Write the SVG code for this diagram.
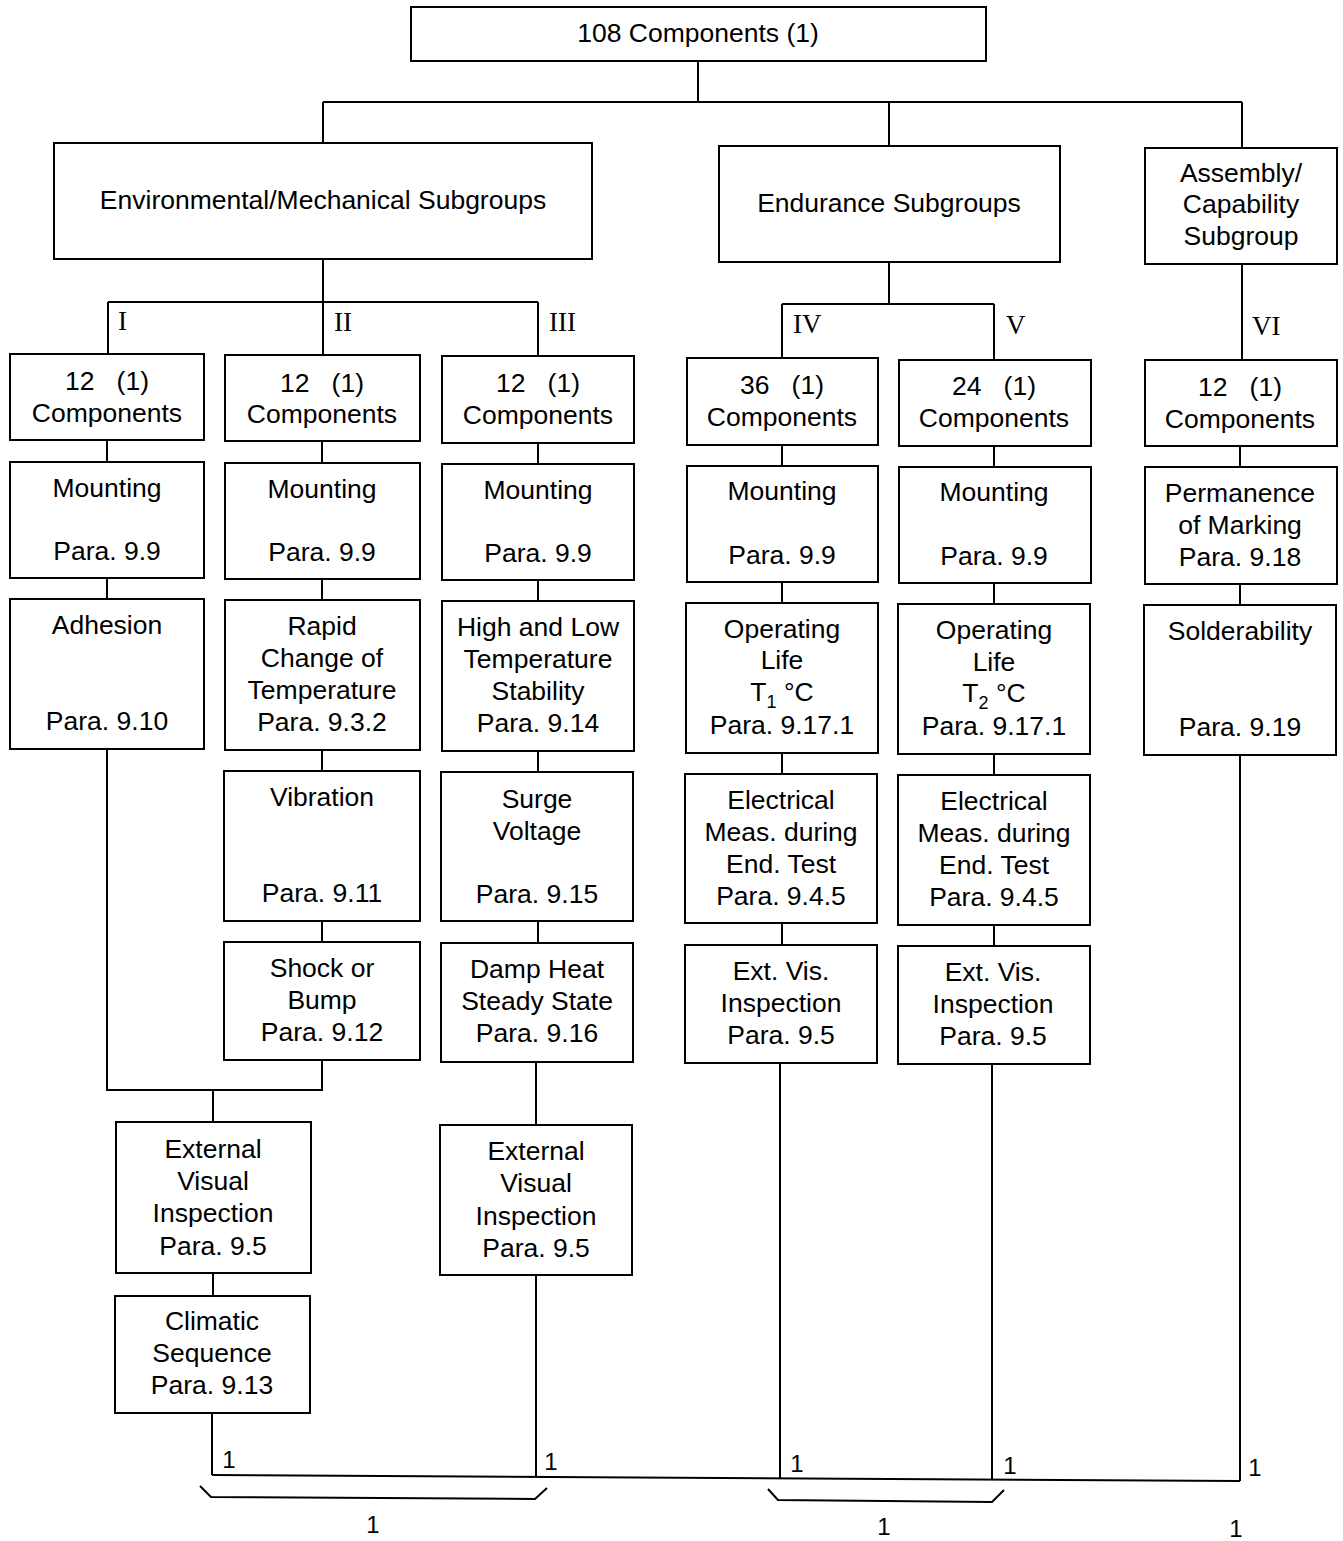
<svg xmlns="http://www.w3.org/2000/svg" width="1343" height="1541" viewBox="0 0 1343 1541">
<style>
.b{fill:none;stroke:#000;stroke-width:2}
.c{fill:none;stroke:#000;stroke-width:2}
.t{font-family:"Liberation Sans",Arial,Helvetica,sans-serif;font-size:26.5px;text-anchor:middle;fill:#000;white-space:pre}
.r{font-family:"Liberation Serif","Times New Roman",serif;font-size:27px;fill:#000}
.n{font-family:"Liberation Sans",Arial,Helvetica,sans-serif;font-size:24px;text-anchor:middle;fill:#000}
.s{font-size:18px}
</style>
<rect width="1343" height="1541" fill="#fff"/>
<g id="connectors">
<path class="c" d="M698 61V102M323 102H1242M323 102V143M889 102V146M1242 102V148"/>
<path class="c" d="M323 259V302M108 302H538M108 302V354M323 302V355M538 302V356"/>
<path class="c" d="M889 262V304M782 304H994M782 304V358M994 304V360"/>
<path class="c" d="M1242 264V360"/>
<path class="c" d="M107 440V462M107 578V599M107 749V1090H322V1060M213 1090V1122M213 1273V1296M212 1413V1475"/>
<path class="c" d="M322 441V463M322 579V600M322 750V771M322 921V942"/>
<path class="c" d="M538 443V464M538 580V601M538 751V772M538 921V943M536 1062V1125M536 1275V1477"/>
<path class="c" d="M782 445V466M782 582V603M782 753V774M782 923V945M780 1063V1478"/>
<path class="c" d="M994 446V467M994 583V604M994 754V775M994 925V946M992 1064V1479"/>
<path class="c" d="M1240 446V467M1240 584V605M1240 755V1481"/>
<path class="c" d="M212 1475L1240 1481"/>
<path class="c" d="M200 1486L211 1497L535 1499L547 1488"/>
<path class="c" d="M768 1489L778 1500L992 1502L1004 1490"/>
<text class="r" x="118" y="330">I</text>
<text class="r" x="334" y="331">II</text>
<text class="r" x="549" y="331">III</text>
<text class="r" x="793" y="333">IV</text>
<text class="r" x="1006" y="334">V</text>
<text class="r" x="1252" y="335">VI</text>
<text class="n" x="229" y="1468">1</text>
<text class="n" x="551" y="1470">1</text>
<text class="n" x="797" y="1472">1</text>
<text class="n" x="1010" y="1474">1</text>
<text class="n" x="1255" y="1476">1</text>
<text class="n" x="373" y="1533">1</text>
<text class="n" x="884" y="1535">1</text>
<text class="n" x="1236" y="1537">1</text>
</g>
<g id="n_top"><rect class="b" x="411" y="7" width="575" height="54"/><text class="t" x="698" y="42">108 Components (1)</text></g>
<g id="n_env"><rect class="b" x="54" y="143" width="538" height="116"/><text class="t" x="323" y="209">Environmental/Mechanical Subgroups</text></g>
<g id="n_end"><rect class="b" x="719" y="146" width="341" height="116"/><text class="t" x="889" y="212">Endurance Subgroups</text></g>
<g id="n_asm"><rect class="b" x="1145" y="148" width="192" height="116"/><text class="t" x="1241" y="182">Assembly/</text><text class="t" x="1241" y="213">Capability</text><text class="t" x="1241" y="245">Subgroup</text></g>

<g id="n_c1"><rect class="b" x="10" y="354" width="194" height="86"/><text class="t" x="107" y="390">12   (1)</text><text class="t" x="107" y="422">Components</text></g>
<g id="n_m1"><rect class="b" x="10" y="462" width="194" height="116"/><text class="t" x="107" y="497">Mounting</text><text class="t" x="107" y="560">Para. 9.9</text></g>
<g id="n_adh"><rect class="b" x="10" y="599" width="194" height="150"/><text class="t" x="107" y="634">Adhesion</text><text class="t" x="107" y="730">Para. 9.10</text></g>

<g id="n_c2"><rect class="b" x="225" y="355" width="195" height="86"/><text class="t" x="322" y="392">12   (1)</text><text class="t" x="322" y="423">Components</text></g>
<g id="n_m2"><rect class="b" x="225" y="463" width="195" height="116"/><text class="t" x="322" y="498">Mounting</text><text class="t" x="322" y="561">Para. 9.9</text></g>
<g id="n_rapid"><rect class="b" x="225" y="600" width="195" height="150"/><text class="t" x="322" y="635">Rapid</text><text class="t" x="322" y="667">Change of</text><text class="t" x="322" y="699">Temperature</text><text class="t" x="322" y="731">Para. 9.3.2</text></g>
<g id="n_vib"><rect class="b" x="224" y="771" width="196" height="150"/><text class="t" x="322" y="806">Vibration</text><text class="t" x="322" y="902">Para. 9.11</text></g>
<g id="n_shock"><rect class="b" x="224" y="942" width="196" height="118"/><text class="t" x="322" y="977">Shock or</text><text class="t" x="322" y="1009">Bump</text><text class="t" x="322" y="1041">Para. 9.12</text></g>

<g id="n_c3"><rect class="b" x="442" y="356" width="192" height="87"/><text class="t" x="538" y="392">12   (1)</text><text class="t" x="538" y="424">Components</text></g>
<g id="n_m3"><rect class="b" x="442" y="464" width="192" height="116"/><text class="t" x="538" y="499">Mounting</text><text class="t" x="538" y="562">Para. 9.9</text></g>
<g id="n_hl"><rect class="b" x="442" y="601" width="192" height="150"/><text class="t" x="538" y="636">High and Low</text><text class="t" x="538" y="668">Temperature</text><text class="t" x="538" y="700">Stability</text><text class="t" x="538" y="732">Para. 9.14</text></g>
<g id="n_surge"><rect class="b" x="441" y="772" width="192" height="149"/><text class="t" x="537" y="808">Surge</text><text class="t" x="537" y="840">Voltage</text><text class="t" x="537" y="903">Para. 9.15</text></g>
<g id="n_damp"><rect class="b" x="441" y="943" width="192" height="119"/><text class="t" x="537" y="978">Damp Heat</text><text class="t" x="537" y="1010">Steady State</text><text class="t" x="537" y="1042">Para. 9.16</text></g>
<g id="n_ev3"><rect class="b" x="440" y="1125" width="192" height="150"/><text class="t" x="536" y="1160">External</text><text class="t" x="536" y="1192">Visual</text><text class="t" x="536" y="1225">Inspection</text><text class="t" x="536" y="1257">Para. 9.5</text></g>

<g id="n_ev1"><rect class="b" x="116" y="1122" width="195" height="151"/><text class="t" x="213" y="1158">External</text><text class="t" x="213" y="1190">Visual</text><text class="t" x="213" y="1222">Inspection</text><text class="t" x="213" y="1255">Para. 9.5</text></g>
<g id="n_clim"><rect class="b" x="115" y="1296" width="195" height="117"/><text class="t" x="212" y="1330">Climatic</text><text class="t" x="212" y="1362">Sequence</text><text class="t" x="212" y="1394">Para. 9.13</text></g>

<g id="n_c4"><rect class="b" x="687" y="358" width="191" height="87"/><text class="t" x="782" y="394">36   (1)</text><text class="t" x="782" y="426">Components</text></g>
<g id="n_m4"><rect class="b" x="687" y="466" width="191" height="116"/><text class="t" x="782" y="500">Mounting</text><text class="t" x="782" y="564">Para. 9.9</text></g>
<g id="n_op4"><rect class="b" x="686" y="603" width="192" height="150"/><text class="t" x="782" y="638">Operating</text><text class="t" x="782" y="669">Life</text><text class="t" x="782" y="701">T<tspan class="s" dy="7">1</tspan><tspan dy="-7"> °C</tspan></text><text class="t" x="782" y="734">Para. 9.17.1</text></g>
<g id="n_el4"><rect class="b" x="685" y="774" width="192" height="149"/><text class="t" x="781" y="809">Electrical</text><text class="t" x="781" y="841">Meas. during</text><text class="t" x="781" y="873">End. Test</text><text class="t" x="781" y="905">Para. 9.4.5</text></g>
<g id="n_ev4"><rect class="b" x="685" y="945" width="192" height="118"/><text class="t" x="781" y="980">Ext. Vis.</text><text class="t" x="781" y="1012">Inspection</text><text class="t" x="781" y="1044">Para. 9.5</text></g>

<g id="n_c5"><rect class="b" x="899" y="360" width="192" height="86"/><text class="t" x="994" y="395">24   (1)</text><text class="t" x="994" y="427">Components</text></g>
<g id="n_m5"><rect class="b" x="899" y="467" width="192" height="116"/><text class="t" x="994" y="501">Mounting</text><text class="t" x="994" y="565">Para. 9.9</text></g>
<g id="n_op5"><rect class="b" x="898" y="604" width="192" height="150"/><text class="t" x="994" y="639">Operating</text><text class="t" x="994" y="671">Life</text><text class="t" x="994" y="702">T<tspan class="s" dy="7">2</tspan><tspan dy="-7"> °C</tspan></text><text class="t" x="994" y="735">Para. 9.17.1</text></g>
<g id="n_el5"><rect class="b" x="898" y="775" width="192" height="150"/><text class="t" x="994" y="810">Electrical</text><text class="t" x="994" y="842">Meas. during</text><text class="t" x="994" y="874">End. Test</text><text class="t" x="994" y="906">Para. 9.4.5</text></g>
<g id="n_ev5"><rect class="b" x="898" y="946" width="192" height="118"/><text class="t" x="993" y="981">Ext. Vis.</text><text class="t" x="993" y="1013">Inspection</text><text class="t" x="993" y="1045">Para. 9.5</text></g>

<g id="n_c6"><rect class="b" x="1145" y="360" width="192" height="86"/><text class="t" x="1240" y="396">12   (1)</text><text class="t" x="1240" y="428">Components</text></g>
<g id="n_perm"><rect class="b" x="1145" y="467" width="192" height="117"/><text class="t" x="1240" y="502">Permanence</text><text class="t" x="1240" y="534">of Marking</text><text class="t" x="1240" y="566">Para. 9.18</text></g>
<g id="n_sold"><rect class="b" x="1144" y="605" width="192" height="150"/><text class="t" x="1240" y="640">Solderability</text><text class="t" x="1240" y="736">Para. 9.19</text></g>
</svg>
